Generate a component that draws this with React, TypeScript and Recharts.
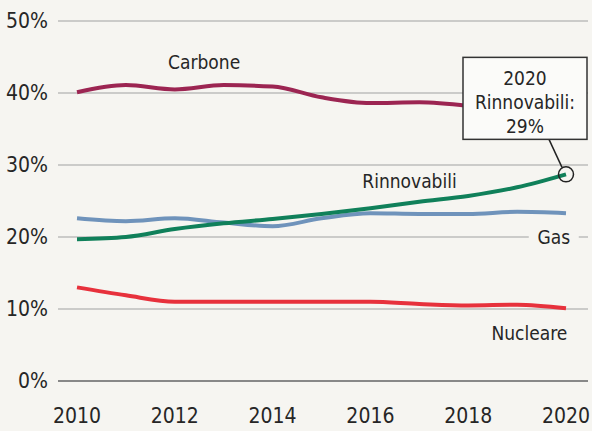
import { LineChart, Line, XAxis, YAxis, CartesianGrid, ReferenceDot, ReferenceLine } from 'recharts';

const years = [2010, 2011, 2012, 2013, 2014, 2015, 2016, 2017, 2018, 2019, 2020];
const carbone = [40.1, 41.1, 40.5, 41.1, 40.9, 39.4, 38.6, 38.7, 38.2, null, null];
const rinnovabili = [19.7, 20.0, 21.1, 21.9, 22.5, 23.2, 24.0, 24.9, 25.7, 26.9, 28.7];
const gas = [22.6, 22.2, 22.6, 22.0, 21.5, 22.6, 23.3, 23.2, 23.2, 23.5, 23.3];
const nucleare = [13.0, 11.9, 11.0, 11.0, 11.0, 11.0, 11.0, 10.7, 10.5, 10.6, 10.1];

const xTicks = [2010, 2012, 2014, 2016, 2018, 2020];
const yTicks = [0, 10, 20, 30, 40, 50];

const data = years.map((year, i) => ({
  year,
  carbone: carbone[i],
  rinnovabili: rinnovabili[i],
  gas: gas[i],
  nucleare: nucleare[i],
}));

const FONT = '"Liberation Sans Narrow", "DejaVu Sans Condensed", Roboto, sans-serif';
const BG = '#f6f5f1';
const TEXT = '#262626';

// etichetta di testo centrata sul punto
const textShape = (text: string, bg?: { w: number; h: number }) => (props: any) => {
  const { cx, cy } = props;
  return (
    <g>
      {bg && <rect x={cx - bg.w / 2} y={cy - bg.h / 2} width={bg.w} height={bg.h} fill={BG} />}
      <text x={cx} y={cy} textAnchor="middle" dominantBaseline="central" fontFamily={FONT} fontSize={19} fill={TEXT}>
        {text}
      </text>
    </g>
  );
};

// cerchio + riquadro del valore 2020
const calloutShape = (props: any) => {
  const { cx, cy } = props;
  const left = cx - 103;
  const top = cy - 117;
  const w = 124;
  const h = 82;
  return (
    <g>
      <line x1={cx - 17} y1={top + h} x2={cx - 4} y2={cy - 7} stroke="#222" strokeWidth={1.5} />
      <circle cx={cx} cy={cy} r={7.5} fill="none" stroke="#222" strokeWidth={1.5} />
      <rect x={left} y={top} width={w} height={h} fill="#fbfbf9" stroke="#333" strokeWidth={1.5} />
      <text textAnchor="middle" fontFamily={FONT} fontSize={19} fill={TEXT}>
        <tspan x={left + w / 2} y={top + 28}>2020</tspan>
        <tspan x={left + w / 2} y={top + 52}>Rinnovabili:</tspan>
        <tspan x={left + w / 2} y={top + 76}>29%</tspan>
      </text>
    </g>
  );
};

export default function App() {
  return (
    <div style={{ width: 592, height: 431, background: BG }}>
      <style>{'body{margin:0}'}</style>
      <LineChart width={592} height={431} data={data} margin={{ top: 21, right: 4, left: 0, bottom: 20 }}>
        <CartesianGrid vertical={false} stroke="#bdbdbb" strokeWidth={1.5} />
        <XAxis
          dataKey="year"
          type="number"
          domain={[2010, 2020]}
          ticks={xTicks}
          padding={{ left: 19, right: 22 }}
          axisLine={false}
          tickLine={false}
          tickMargin={21}
          height={30}
          tick={{ fontFamily: FONT, fontSize: 21, fill: TEXT }}
        />
        <YAxis
          domain={[0, 50]}
          ticks={yTicks}
          width={58}
          axisLine={false}
          tickLine={false}
          tickMargin={4}
          tickFormatter={(v) => `${v}%`}
          tick={{ fontFamily: FONT, fontSize: 21, fill: TEXT }}
        />
        <ReferenceLine y={0} stroke="#888" strokeWidth={2} />
        <Line dataKey="gas" type="monotone" stroke="#6f93bb" strokeWidth={4} dot={false} isAnimationActive={false} />
        <Line dataKey="rinnovabili" type="monotone" stroke="#10805a" strokeWidth={4} dot={false} isAnimationActive={false} />
        <Line dataKey="nucleare" type="monotone" stroke="#e7313c" strokeWidth={4} dot={false} isAnimationActive={false} />
        <Line dataKey="carbone" type="monotone" stroke="#9c2552" strokeWidth={4} dot={false} isAnimationActive={false} />
        <ReferenceDot x={2012.6} y={44.3} r={0} ifOverflow="visible" shape={textShape('Carbone')} />
        <ReferenceDot x={2016.8} y={27.8} r={0} ifOverflow="visible" shape={textShape('Rinnovabili')} />
        <ReferenceDot x={2019.75} y={20} r={0} ifOverflow="visible" shape={textShape('Gas', { w: 50, h: 24 })} />
        <ReferenceDot x={2019.25} y={6.7} r={0} ifOverflow="visible" shape={textShape('Nucleare')} />
        <ReferenceDot x={2020} y={28.7} r={8} ifOverflow="visible" shape={calloutShape} />
      </LineChart>
    </div>
  );
}
